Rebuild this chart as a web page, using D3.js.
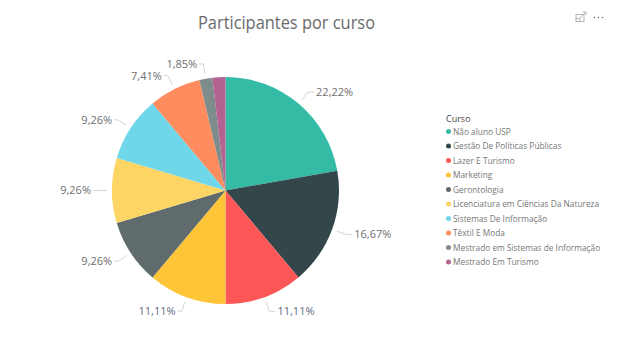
<!DOCTYPE html>
<html>
<head>
<meta charset="utf-8">
<script src="https://cdn.jsdelivr.net/npm/d3@7"></script>
<style>
html, body { margin: 0; padding: 0; background: #fff; }
text { font-family: "Open Sans", sans-serif; }
</style>
</head>
<body>
<svg id="chart" width="629" height="363"></svg>
<script>
const cursos = ["Não aluno USP", "Gestão De Políticas Públicas", "Lazer E Turismo", "Marketing", "Gerontologia",
    "Licenciatura em Ciências Da Natureza", "Sistemas De Informação", "Têxtil E Moda", "Mestrado em Sistemas de Informação", "Mestrado Em Turismo"];
const valores = [22.22, 16.67, 11.11, 11.11, 9.26, 9.26, 9.26, 7.41, 1.85, 1.85];
const rotulos = ["22,22%", "16,67%", "11,11%", "11,11%", "9,26%", "9,26%", "9,26%", "7,41%", "1,85%"];
const cores = ["#33bba5", "#33474b", "#fd5656", "#fdc537", "#5f6b6d", "#fcd564", "#70d7ea", "#fe8c5f", "#7f8c8c", "#b36291"];

const svg = d3.select("#chart");
const cx = 225.5, cy = 190.5, r = 113.5;

svg.append("text").attr("x", 286.5).attr("y", 29).attr("text-anchor", "middle")
    .attr("font-size", 18).attr("fill", "#6b6b6b")
    .attr("textLength", 177).attr("lengthAdjust", "spacingAndGlyphs")
    .text("Participantes por curso");

const pie = d3.pie().sort(null).value(d => d);
const arcs = pie(valores);
const arc = d3.arc().innerRadius(0).outerRadius(r);
const g = svg.append("g").attr("transform", `translate(${cx},${cy})`);

g.selectAll("path.fatia").data(arcs).join("path").attr("class", "fatia")
    .attr("d", arc).attr("fill", (d, i) => cores[i]);

// leader lines and labels, last slice has no label in the original
const polar = (a, k) => [Math.sin(a) * k, -Math.cos(a) * k];
const mid = d => (d.startAngle + d.endAngle) / 2;
const rotulados = arcs.slice(0, rotulos.length);
const direita = d => Math.sin(mid(d)) >= 0;

g.selectAll("path.guia").data(rotulados).join("path").attr("class", "guia")
    .attr("fill", "none").attr("stroke", "#d4d4d4").attr("stroke-width", 1)
    .attr("d", d => {
        const a = mid(d), p0 = polar(a, r + 5), p1 = polar(a, r + 15);
        return d3.line()([p0, p1, [p1[0] + (direita(d) ? 6 : -4), p1[1]]]);
    });

g.selectAll("text.rotulo").data(rotulados).join("text").attr("class", "rotulo")
    .attr("font-size", 11).attr("fill", (d, i) => (i == 2 || i == 3) ? "#5f6b80" : "#6e6e6e")
    .attr("dy", "0.35em")
    .attr("text-anchor", d => direita(d) ? "start" : "end")
    .attr("x", d => polar(mid(d), r + 15)[0] + (direita(d) ? 8 : -6))
    .attr("y", d => polar(mid(d), r + 15)[1])
    .text((d, i) => rotulos[i]);

// legend
const legenda = svg.append("g");
legenda.append("text").attr("x", 446).attr("y", 122).attr("font-size", 9).attr("fill", "#444").text("Curso");
const ly = d3.scalePoint().domain(cursos).range([131.5, 262]);
const itens = legenda.selectAll("g.item").data(cursos).join("g").attr("class", "item")
    .attr("transform", d => `translate(0,${ly(d)})`);
itens.append("circle").attr("cx", 448.5).attr("r", 2.5).attr("fill", (d, i) => cores[i]);
// original font runs narrower than Open Sans, squeeze each entry a bit
itens.append("text").attr("x", 453).attr("dy", "0.35em").attr("font-size", 9).attr("fill", "#777")
    .text(d => d)
    .attr("textLength", function () { return this.getComputedTextLength() * 0.925; })
    .attr("lengthAdjust", "spacingAndGlyphs");

// focus icon and menu dots
const icone = svg.append("g").attr("fill", "none").attr("stroke", "#b5b5b5").attr("stroke-width", 1);
icone.append("rect").attr("x", 576).attr("y", 14.5).attr("width", 8).attr("height", 7);
icone.append("path").attr("d", "M580 18 L586 12 M583 12 H586 V15 M576 18.5 H580 V21.5");
svg.append("g").selectAll("circle").data([0, 1, 2]).join("circle")
    .attr("cx", d => 594.5 + d * 4).attr("cy", 17.5).attr("r", 0.8).attr("fill", "#666");
</script>
</body>
</html>
